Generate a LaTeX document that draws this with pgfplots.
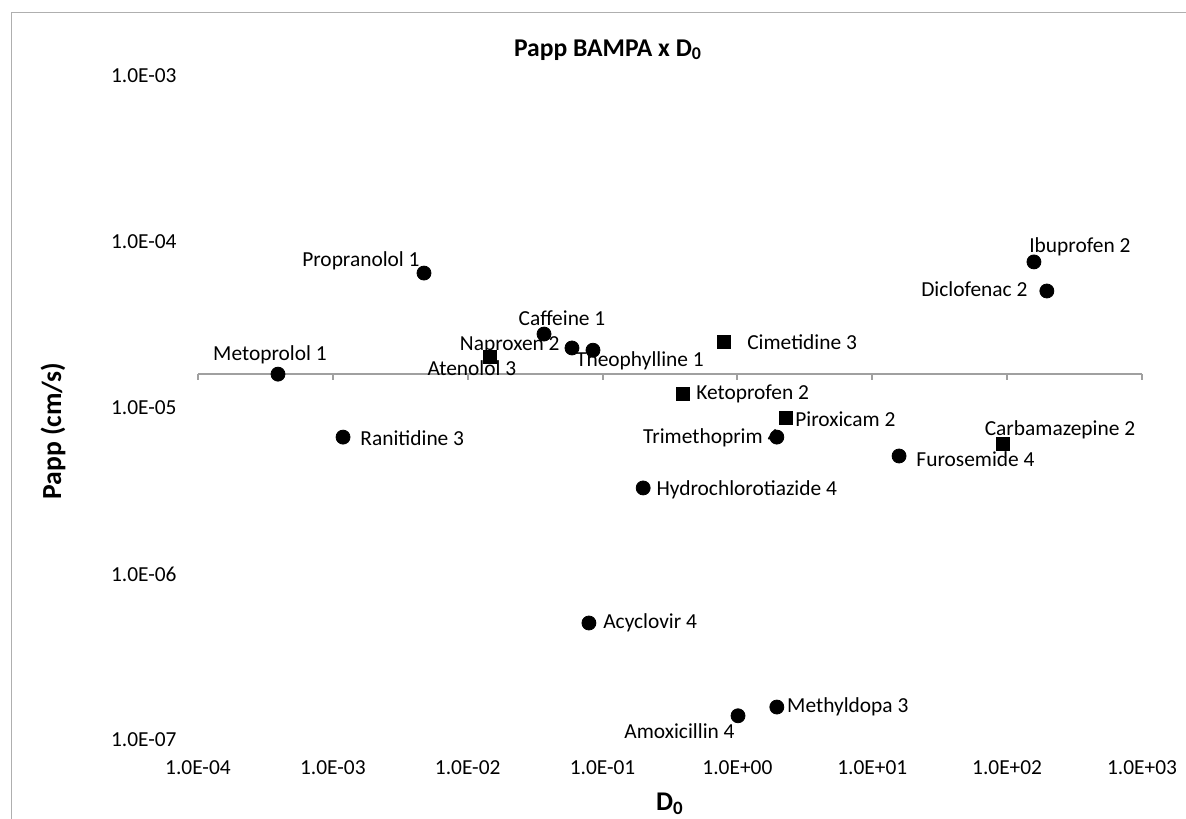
\documentclass[border=0pt]{standalone}
\usepackage{fontspec}
\setmainfont{Carlito}
\usepackage{pgfplots}
\usepackage{pgfplotstable}
\pgfplotsset{compat=1.18}
\definecolor{axgray}{RGB}{160,160,160}
\definecolor{framegray}{RGB}{175,175,175}

% D0, Papp (cm/s)
\pgfplotstableread{
x y
3.92e-4 1.60e-5
4.74e-3 6.50e-5
0.0368 2.79e-5
0.0593 2.30e-5
0.0849 2.23e-5
1.19e-3 6.68e-6
0.200 3.30e-6
0.0792 5.07e-7
1.01 1.40e-7
1.96 1.58e-7
1.96 6.68e-6
15.8 5.14e-6
158 7.59e-5
197 5.07e-5
}\circles

\pgfplotstableread{
x y
0.0146 2.03e-5
0.794 2.50e-5
0.394 1.21e-5
2.29 8.71e-6
93.1 6.07e-6
}\squares

\newcommand{\lbl}[6]{\node[anchor=#3, xshift=#4pt, yshift=#5pt, inner sep=0pt, font=\fontsize{10.7}{12}\selectfont] at (axis cs:#1,#2) {#6};}

\begin{document}
\begin{tikzpicture}
\path[use as bounding box] (0,0) rectangle (593pt,-409pt);
\draw[framegray, line width=0.5pt] (5.5pt,-6.5pt) rectangle (650pt,-450pt);
\begin{axis}[
  at={(99pt,-370pt)}, anchor=south west,
  scale only axis, width=472pt, height=332pt,
  xmode=log, ymode=log,
  xmin=1e-4, xmax=1e3, ymin=1e-7, ymax=1e-3,
  clip=false,
  axis line style={draw=none},
  tick style={draw=none},
  major tick length=0pt, minor tick length=0pt,
  xtick={1e-4,1e-3,1e-2,1e-1,1,1e1,1e2,1e3},
  xticklabels={1.0E-04,1.0E-03,1.0E-02,1.0E-01,1.0E+00,1.0E+01,1.0E+02,1.0E+03},
  ytick={1e-7,1e-6,1e-5,1e-4,1e-3},
  yticklabels={1.0E-07,1.0E-06,1.0E-05,1.0E-04,1.0E-03},
  minor xtick={}, minor ytick={},
  xticklabel style={anchor=north, inner sep=0pt, yshift=-10.1pt, font=\fontsize{10.7}{12}\selectfont},
  yticklabel style={anchor=east, inner sep=0pt, xshift=-10.5pt, font=\fontsize{10.7}{12}\selectfont},
]
\draw[axgray, line width=1pt] (axis cs:1e-4,1.6e-5) -- (axis cs:1e3,1.6e-5);
\pgfplotsinvokeforeach{1e-4,1e-3,1e-2,1e-1,1,1e1,1e2,1e3}{
  \draw[axgray, line width=1pt] (axis cs:#1,1.6e-5) -- ++(0pt,-2.8pt);
}
% data labels
\lbl{3.92e-4}{1.60e-5}{center}{-4}{9.5}{Metoprolol 1}
\lbl{4.74e-3}{6.50e-5}{east}{-2}{6}{Propranolol 1}
\lbl{0.0368}{2.79e-5}{center}{9}{8}{Caffeine 1}
\lbl{0.0593}{2.30e-5}{east}{-6}{1.5}{Naproxen 2}
\lbl{0.0849}{2.23e-5}{center}{23.5}{-5.5}{Theophylline 1}
\lbl{1.19e-3}{6.68e-6}{west}{8.5}{-0.5}{Ranitidine 3}
\lbl{0.200}{3.30e-6}{west}{6.5}{-1}{Hydrochlorotiazide 4}
\lbl{0.0792}{5.07e-7}{west}{7}{0}{Acyclovir 4}
\lbl{1.01}{1.40e-7}{east}{-1.5}{-7.5}{Amoxicillin 4}
\lbl{1.96}{1.58e-7}{west}{5}{0}{Methyldopa 3}
\lbl{1.96}{6.68e-6}{east}{1}{-0.5}{Trimethoprim 4}
\lbl{15.8}{5.14e-6}{west}{8.5}{-1.5}{Furosemide 4}
\lbl{158}{7.59e-5}{west}{-2.5}{7.5}{Ibuprofen 2}
\lbl{197}{5.07e-5}{east}{-9.5}{1}{Diclofenac 2}
\lbl{0.0146}{2.03e-5}{center}{-9}{-5.5}{Atenolol 3}
\lbl{0.794}{2.50e-5}{west}{11.5}{0}{Cimetidine 3}
\lbl{0.394}{1.21e-5}{west}{6.5}{0}{Ketoprofen 2}
\lbl{2.29}{8.71e-6}{west}{4.5}{-0.5}{Piroxicam 2}
\lbl{93.1}{6.07e-6}{center}{28.5}{7}{Carbamazepine 2}
\addplot[only marks, mark=*, mark size=3.5pt, black] table[x=x,y=y]{\circles};
\addplot[only marks, mark=square*, mark size=3.2pt, black] table[x=x,y=y]{\squares};
\end{axis}
\node[font=\bfseries\fontsize{12.8}{14}\selectfont, inner sep=0pt] at (304pt,-25pt) {Papp BAMPA x D\textsubscript{0}};
\node[font=\bfseries\fontsize{13.8}{15}\selectfont, inner sep=0pt, rotate=90] at (26.5pt,-215.5pt) {Papp (cm/s)};
\node[font=\bfseries\fontsize{13.5}{15}\selectfont, inner sep=0pt] at (335pt,-402pt) {D\textsubscript{0}};
\end{tikzpicture}
\end{document}
